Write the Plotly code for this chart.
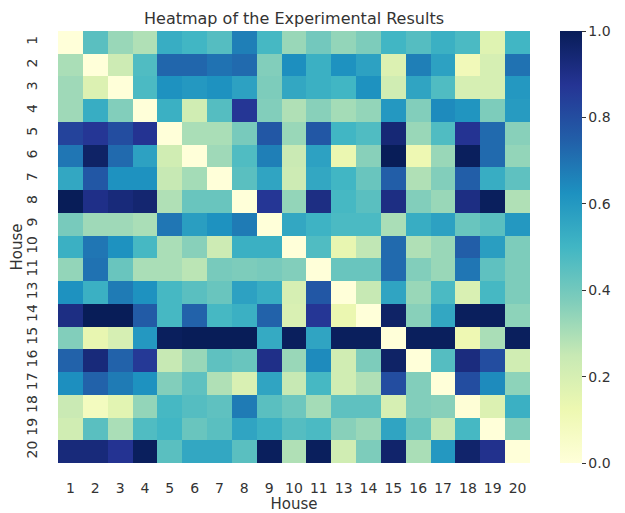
import plotly.graph_objects as go

house_labels = ["1", "2", "3", "4", "5", "6", "7", "8", "9", "10",
                "11", "13", "14", "15", "16", "17", "18", "19", "20"]

row_1  = [0.00, 0.45, 0.33, 0.29, 0.53, 0.50, 0.46, 0.67, 0.49, 0.33, 0.40, 0.34, 0.38, 0.50, 0.46, 0.52, 0.48, 0.17, 0.50]
row_2  = [0.30, 0.00, 0.23, 0.47, 0.73, 0.73, 0.70, 0.72, 0.37, 0.63, 0.52, 0.62, 0.57, 0.18, 0.67, 0.57, 0.10, 0.20, 0.70]
row_3  = [0.32, 0.18, 0.00, 0.48, 0.62, 0.60, 0.62, 0.57, 0.38, 0.55, 0.52, 0.50, 0.62, 0.22, 0.56, 0.47, 0.20, 0.20, 0.60]
row_4  = [0.32, 0.53, 0.37, 0.00, 0.52, 0.22, 0.46, 0.87, 0.37, 0.29, 0.36, 0.31, 0.34, 0.60, 0.37, 0.64, 0.61, 0.38, 0.59]
row_5  = [0.83, 0.87, 0.80, 0.88, 0.00, 0.30, 0.30, 0.39, 0.77, 0.33, 0.77, 0.50, 0.47, 0.94, 0.33, 0.47, 0.88, 0.72, 0.36]
row_6  = [0.69, 0.97, 0.72, 0.57, 0.22, 0.00, 0.32, 0.47, 0.67, 0.24, 0.57, 0.13, 0.36, 1.00, 0.12, 0.33, 0.99, 0.72, 0.34]
row_7  = [0.55, 0.77, 0.62, 0.62, 0.25, 0.31, 0.00, 0.45, 0.56, 0.23, 0.55, 0.50, 0.42, 0.75, 0.29, 0.37, 0.75, 0.53, 0.44]
row_8  = [1.00, 0.90, 0.93, 0.95, 0.29, 0.42, 0.42, 0.00, 0.87, 0.34, 0.91, 0.49, 0.45, 0.91, 0.37, 0.33, 0.91, 0.99, 0.29]
row_9  = [0.39, 0.32, 0.32, 0.30, 0.69, 0.58, 0.62, 0.68, 0.00, 0.55, 0.51, 0.48, 0.48, 0.30, 0.53, 0.57, 0.42, 0.45, 0.60]
row_10 = [0.52, 0.69, 0.62, 0.49, 0.30, 0.36, 0.23, 0.52, 0.52, 0.00, 0.47, 0.14, 0.26, 0.72, 0.29, 0.33, 0.75, 0.58, 0.38]
row_11 = [0.34, 0.70, 0.42, 0.30, 0.30, 0.27, 0.39, 0.38, 0.39, 0.37, 0.00, 0.42, 0.42, 0.72, 0.37, 0.33, 0.69, 0.44, 0.38]
row_13 = [0.62, 0.52, 0.68, 0.62, 0.49, 0.45, 0.42, 0.57, 0.53, 0.20, 0.77, 0.00, 0.25, 0.56, 0.33, 0.48, 0.19, 0.49, 0.38]
row_14 = [0.91, 1.00, 1.00, 0.76, 0.49, 0.74, 0.49, 0.52, 0.74, 0.19, 0.87, 0.13, 0.00, 0.97, 0.36, 0.55, 0.99, 0.99, 0.35]
row_15 = [0.37, 0.14, 0.20, 0.60, 0.99, 1.00, 1.00, 1.00, 0.54, 0.99, 0.56, 0.99, 0.99, 0.00, 0.99, 0.99, 0.12, 0.30, 0.99]
row_16 = [0.74, 0.93, 0.74, 0.86, 0.25, 0.33, 0.44, 0.42, 0.90, 0.33, 0.64, 0.22, 0.38, 0.97, 0.00, 0.46, 0.92, 0.80, 0.22]
row_17 = [0.63, 0.74, 0.68, 0.62, 0.37, 0.44, 0.29, 0.19, 0.56, 0.25, 0.49, 0.22, 0.29, 0.80, 0.37, 0.00, 0.80, 0.64, 0.35]
row_18 = [0.24, 0.08, 0.16, 0.34, 0.49, 0.46, 0.44, 0.68, 0.45, 0.41, 0.31, 0.44, 0.44, 0.20, 0.37, 0.36, 0.01, 0.18, 0.52]
row_19 = [0.22, 0.45, 0.30, 0.47, 0.50, 0.42, 0.45, 0.56, 0.52, 0.46, 0.48, 0.36, 0.33, 0.56, 0.42, 0.25, 0.49, 0.00, 0.37]
row_20 = [0.93, 0.93, 0.88, 0.99, 0.45, 0.55, 0.55, 0.45, 0.99, 0.29, 0.99, 0.22, 0.38, 0.96, 0.30, 0.60, 0.96, 0.89, 0.00]

z_values = [row_1, row_2, row_3, row_4, row_5, row_6, row_7, row_8, row_9, row_10,
            row_11, row_13, row_14, row_15, row_16, row_17, row_18, row_19, row_20]

ylgnbu = ["#ffffd9", "#edf8b1", "#c7e9b4", "#7fcdbb", "#41b6c4",
          "#1d91c0", "#225ea8", "#253494", "#081d58"]
colorscale = [[i / (len(ylgnbu) - 1), c] for i, c in enumerate(ylgnbu)]

text_color = "#333333"
font_family = "DejaVu Sans"

# The page body has an 8px margin, so the figure is sized to fit the window.
W, H = 617, 505

fig = go.Figure(go.Heatmap(
    z=z_values,
    x=house_labels,
    y=house_labels,
    zmin=0, zmax=1,
    colorscale=colorscale,
    xgap=0, ygap=0,
    colorbar=dict(
        x=(552 - 50) / 472, xanchor="left", xpad=0,
        y=0.5, yanchor="middle", ypad=0,
        len=1, lenmode="fraction",
        thickness=22, thicknessmode="pixels",
        outlinewidth=0,
        tickvals=[0, 0.2, 0.4, 0.6, 0.8, 1.0],
        tickformat=".1f",
        ticks="outside", ticklen=4, tickcolor=text_color, tickwidth=1,
        tickfont=dict(family=font_family, size=14, color=text_color),
    ),
))

fig.update_layout(
    template="none",
    width=W, height=H,
    margin=dict(l=50, r=95, t=23, b=50, autoexpand=False),
    paper_bgcolor="white", plot_bgcolor="white",
    font=dict(family=font_family, color=text_color, size=14),
    title=dict(text="Heatmap of the Experimental Results",
               x=(50 + 522) / 2 / W, xanchor="center",
               y=1 - 10 / H, yanchor="middle",
               font=dict(family=font_family, size=16, color=text_color)),
    xaxis=dict(
        type="category", showgrid=False, zeroline=False, showline=False, automargin=False,
        ticks="outside", ticklen=12, tickcolor="rgba(0,0,0,0)",
        tickfont=dict(family=font_family, size=14, color=text_color),
        title=dict(text="House", standoff=5,
                   font=dict(family=font_family, size=15, color=text_color)),
    ),
    yaxis=dict(
        type="category", autorange="reversed", showgrid=False, zeroline=False, showline=False,
        automargin=False,
        ticks="outside", ticklen=14, tickcolor="rgba(0,0,0,0)", tickangle=-90,
        tickfont=dict(family=font_family, size=14, color=text_color),
        title=dict(text="House", standoff=0,
                   font=dict(family=font_family, size=15, color=text_color)),
    ),
)

fig.write_html("out.html")
